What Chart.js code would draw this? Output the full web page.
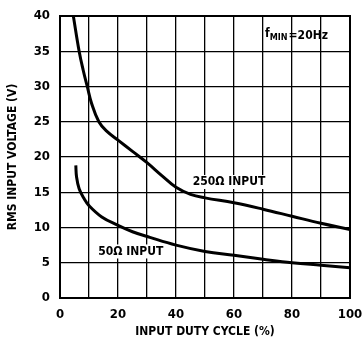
<!DOCTYPE html>
<html>
<head>
<meta charset="utf-8">
<script src="https://cdn.jsdelivr.net/npm/chart.js@4/dist/chart.umd.min.js"></script>
<style>
html,body{margin:0;padding:0;background:#fff;}
#wrap{width:362px;height:339px;position:relative;}
</style>
</head>
<body>
<div id="wrap"><canvas id="c" width="362" height="339"></canvas></div>
<script>
// Data
const duty250 = [4.6, 6.6, 8.0, 9.4, 10.9, 13.4, 16, 20, 25, 30, 35, 40, 45, 50, 60, 70, 80, 90, 100];
const volt250 = [40, 35, 32.3, 30, 27.6, 25, 23.7, 22.4, 20.8, 19.2, 17.4, 15.7, 14.7, 14.2, 13.5, 12.6, 11.6, 10.6, 9.7];
const duty50 = [5.45, 5.7, 6.6, 8.3, 10, 14.4, 20, 25, 31, 40, 50, 60, 70, 80, 90, 100];
const volt50 = [18.8, 17.2, 15.5, 14.1, 13.1, 11.5, 10.3, 9.4, 8.6, 7.5, 6.6, 6.05, 5.5, 5.0, 4.65, 4.3];
const xTickLabels = [0, 20, 40, 60, 80, 100];
const yTickLabels = [0, 5, 10, 15, 20, 25, 30, 35, 40];
const labels = [
  {text: '250Ω INPUT', x: 45.8, y: 16.45},
  {text: '50Ω INPUT', x: 13.2, y: 6.6}
];
const noteMain = 'f';
const noteSub = 'MIN';
const noteRest = '=20Hz';
const notePos = {x: 70.7, y: 37.2};

const FONT = '"Liberation Sans Narrow", "DejaVu Sans Condensed", "Arial Narrow", sans-serif';

const pts = (xs, ys) => xs.map((x, i) => ({x: x, y: ys[i]}));

const annot = {
  id: 'annot',
  afterDatasetsDraw(chart) {
    const ctx = chart.ctx, xs = chart.scales.x, ys = chart.scales.y;
    ctx.save();
    ctx.fillStyle = '#000';
    ctx.textBaseline = 'middle';
    ctx.textAlign = 'left';
    ctx.font = 'bold 12px ' + FONT;
    labels.forEach(l => {
      const px = xs.getPixelForValue(l.x), py = ys.getPixelForValue(l.y);
      ctx.fillStyle = '#fff';
      const w = ctx.measureText(l.text).width;
      ctx.fillRect(px - 2, py - 7, w + 4, 14);
      ctx.fillStyle = '#000';
      ctx.fillText(l.text, px, py);
    });
    let px = xs.getPixelForValue(notePos.x), py = ys.getPixelForValue(notePos.y);
    ctx.font = 'bold 12px ' + FONT;
    ctx.fillText(noteMain, px, py - 2);
    px += ctx.measureText(noteMain).width;
    ctx.font = 'bold 9px ' + FONT;
    ctx.fillText(noteSub, px, py + 2);
    px += ctx.measureText(noteSub).width + 1;
    ctx.font = 'bold 12px ' + FONT;
    ctx.fillText(noteRest, px, py);
    ctx.restore();
  }
};

new Chart(document.getElementById('c'), {
  type: 'scatter',
  data: {
    datasets: [
      {data: pts(duty250, volt250), showLine: true, borderColor: '#000', borderWidth: 3, pointRadius: 0, tension: 0.4, fill: false},
      {data: pts(duty50, volt50), showLine: true, borderColor: '#000', borderWidth: 3, pointRadius: 0, tension: 0.4, fill: false}
    ]
  },
  options: {
    responsive: false,
    animation: false,
    events: [],
    layout: {padding: {top: 16, right: 12, left: 0, bottom: 0}},
    plugins: {legend: {display: false}, tooltip: {enabled: false}},
    scales: {
      x: {
        type: 'linear', min: 0, max: 100,
        border: {display: true, color: '#000', width: 2},
        grid: {color: '#000', lineWidth: 1.3, drawTicks: false},
        ticks: {
          stepSize: 10, padding: 9, color: '#000', maxRotation: 0, autoSkip: false,
          font: {family: FONT, size: 13, weight: 'bold'},
          callback: v => xTickLabels.includes(v) ? String(v) : ''
        },
        title: {display: true, text: 'INPUT DUTY CYCLE (%)', color: '#000', padding: {top: 0, bottom: 0},
          font: {family: FONT, size: 12, weight: 'bold'}},
        afterFit: s => { s.height = 41; s.paddingLeft = 0; s.paddingRight = 0; }
      },
      y: {
        type: 'linear', min: 0, max: 40,
        border: {display: true, color: '#000', width: 2},
        grid: {color: '#000', lineWidth: 1.3, drawTicks: false},
        ticks: {
          stepSize: 5, padding: 10, color: '#000', autoSkip: false,
          font: {family: FONT, size: 13, weight: 'bold'},
          callback: v => yTickLabels.includes(v) ? String(v) : ''
        },
        title: {display: true, text: 'RMS INPUT VOLTAGE (V)', color: '#000', padding: {top: 6, bottom: 0},
          font: {family: FONT, size: 12, weight: 'bold'}},
        afterFit: s => { s.width = 60; s.paddingTop = 0; s.paddingBottom = 0; }
      }
    }
  },
  plugins: [annot, {
    id: 'bg',
    beforeDraw(chart) {
      const ctx = chart.ctx;
      ctx.save(); ctx.fillStyle = '#fff'; ctx.fillRect(0, 0, chart.width, chart.height); ctx.restore();
    },
    afterDraw(chart) {
      const a = chart.chartArea, ctx = chart.ctx;
      ctx.save(); ctx.strokeStyle = '#000'; ctx.lineWidth = 2;
      ctx.strokeRect(a.left, a.top, a.right - a.left, a.bottom - a.top);
      ctx.restore();
    }
  }]
});
</script>
</body>
</html>
